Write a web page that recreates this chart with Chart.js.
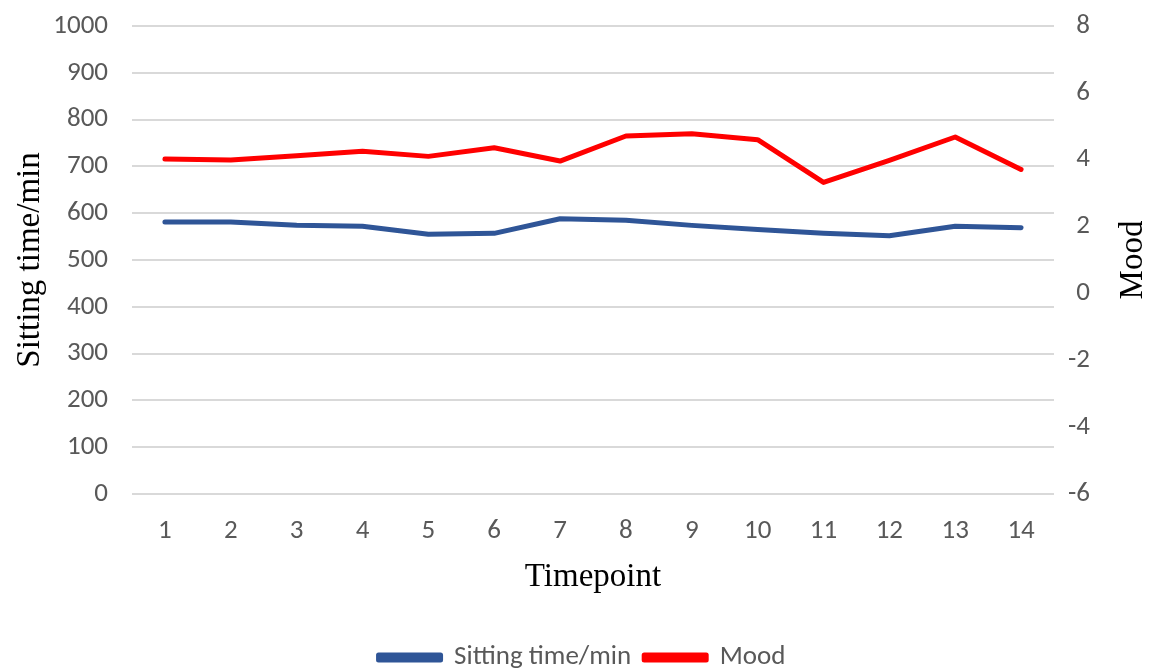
<!DOCTYPE html>
<html>
<head>
<meta charset="utf-8">
<script src="https://cdn.jsdelivr.net/npm/chart.js@4"></script>
<style>
  html, body { margin: 0; padding: 0; background: #fff; }
  #wrap { width: 1150px; height: 668px; position: relative; }
</style>
</head>
<body>
<div id="wrap"><canvas id="myChart"></canvas></div>
<script>
const timepoints = ['1', '2', '3', '4', '5', '6', '7', '8', '9', '10', '11', '12', '13', '14'];
const sittingTime = [581, 581, 574, 572, 555, 557, 588, 585, 574, 565, 557, 552, 572, 569];
const mood = [4.02, 3.99, 4.12, 4.25, 4.10, 4.36, 3.96, 4.71, 4.78, 4.60, 3.32, 3.98, 4.68, 3.71];

const leftTicks = [0, 1000, 100];   // min, max, step
const rightTicks = [-6, 8, 2];

const tickFont = { family: "Calibri, Carlito, 'Liberation Sans', Arial, sans-serif", size: 27 };
const titleFont = "33px 'Times New Roman', 'Liberation Serif', serif";
const grey = '#595959';

// axis titles drawn by hand so "Mood" reads bottom-to-top like the original
const axisTitles = {
    id: 'axisTitles',
    afterLayout(chart) {
        // centre the legend under the whole picture, not the padded box
        if (chart.legend) chart.legend.left += 74;
    },
    afterDraw(chart) {
        const c = chart.ctx;
        const a = chart.chartArea;
        const midY = (a.top + a.bottom) / 2;
        c.save();
        c.fillStyle = '#000';
        c.font = titleFont;
        c.textAlign = 'center';
        c.textBaseline = 'middle';

        c.fillText('Timepoint', (a.left + a.right) / 2, 577);

        c.translate(30, midY);
        c.rotate(-Math.PI / 2);
        c.fillText('Sitting time/min', 0, 0);
        c.restore();

        c.save();
        c.fillStyle = '#000';
        c.font = titleFont;
        c.textAlign = 'center';
        c.textBaseline = 'middle';
        c.translate(1133, midY);
        c.rotate(-Math.PI / 2);
        c.fillText('Mood', 0, 0);
        c.restore();
    }
};

const ctx = document.getElementById('myChart').getContext('2d');
const myChart = new Chart(ctx, {
    type: 'line',
    data: {
        labels: timepoints,
        datasets: [{
            label: 'Sitting time/min',
            data: sittingTime,
            borderColor: '#2F5597',
            backgroundColor: '#2F5597',
            borderWidth: 5,
            pointRadius: 0,
            tension: 0,
            borderCapStyle: 'round',
            borderJoinStyle: 'round',
            yAxisID: 'y'
        }, {
            label: 'Mood',
            data: mood,
            borderColor: '#FF0000',
            backgroundColor: '#FF0000',
            borderWidth: 5,
            pointRadius: 0,
            tension: 0,
            borderCapStyle: 'round',
            borderJoinStyle: 'round',
            yAxisID: 'y1'
        }]
    },
    options: {
        responsive: true,
        maintainAspectRatio: false,
        animation: false,
        layout: { padding: { top: 26, bottom: -13, right: 60 } },
        scales: {
            x: {
                offset: true,
                grid: { display: false, drawTicks: false },
                border: { display: false },
                ticks: { color: grey, font: tickFont, padding: 21, maxRotation: 0 },
                afterFit(scale) { scale.height = 137; }
            },
            y: {
                position: 'left',
                min: leftTicks[0],
                max: leftTicks[1],
                ticks: {
                    stepSize: leftTicks[2], color: grey, font: tickFont, padding: 24,
                    callback: v => String(v)
                },
                grid: { color: '#d9d9d9', lineWidth: 2, drawTicks: false },
                border: { display: false },
                afterFit(scale) { scale.width = 132; scale.paddingTop = 0; scale.paddingBottom = 0; }
            },
            y1: {
                position: 'right',
                min: rightTicks[0],
                max: rightTicks[1],
                ticks: { stepSize: rightTicks[2], color: grey, font: tickFont, padding: 14, crossAlign: 'far' },
                grid: { display: false, drawTicks: false },
                border: { display: false },
                afterFit(scale) { scale.width = 36; scale.paddingTop = 0; scale.paddingBottom = 0; }
            }
        },
        plugins: {
            legend: {
                position: 'bottom',
                labels: {
                    color: grey,
                    font: tickFont,
                    boxWidth: 62,
                    boxHeight: 5,
                    padding: 13
                }
            },
            tooltip: { enabled: false }
        }
    },
    plugins: [axisTitles]
});
</script>
</body>
</html>
